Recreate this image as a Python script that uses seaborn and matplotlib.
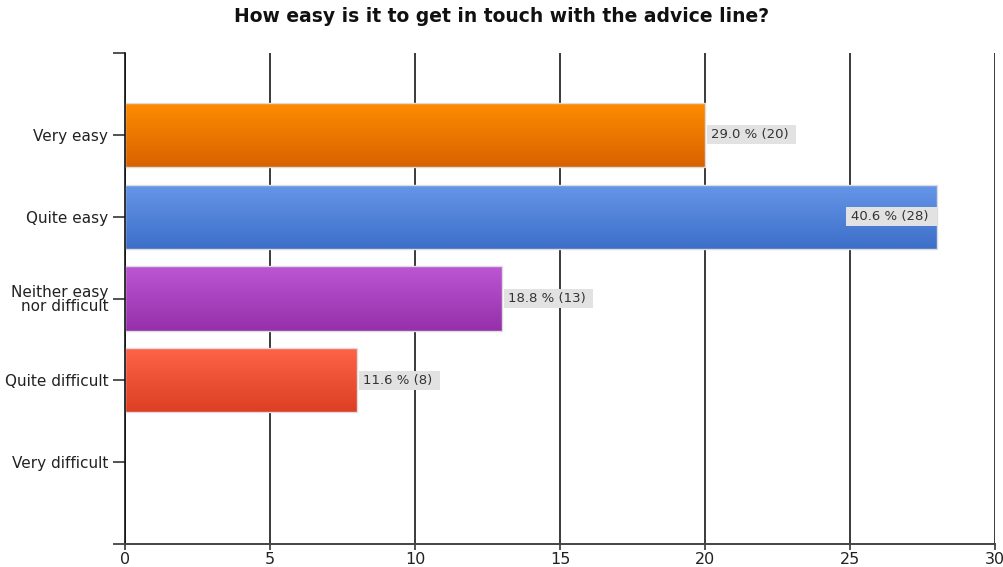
import numpy as np
import matplotlib
matplotlib.use("Agg")
import matplotlib.pyplot as plt
import matplotlib.colors as mcolors
from matplotlib.patches import Rectangle
import seaborn as sns

# Survey responses
categories = ["Very easy", "Quite easy", "Neither easy\nnor difficult",
              "Quite difficult", "Very difficult"]
counts = [20, 28, 13, 8, 0]
percents = [29.0, 40.6, 18.8, 11.6, 0.0]
x_ticks = [0, 5, 10, 15, 20, 25, 30]

# Top and bottom shades of each bar's vertical gradient
top_colors = ["#FF8C00", "#6696E8", "#BC56D4", "#FF6448", "#888888"]
bottom_colors = ["#D96200", "#3D6FC9", "#9530AA", "#DC3F22", "#666666"]

sns.set_theme(style="white")
plt.rcParams["font.family"] = ["DejaVu Sans"]

fig = plt.figure(figsize=(10.04, 5.67), dpi=100)
ax = fig.add_axes([125 / 1004, 23 / 567, 870 / 1004, 491 / 567])

sns.barplot(x=counts, y=categories, hue=categories, palette=top_colors,
            legend=False, orient="h", width=0.785, ax=ax,
            edgecolor="#dcdcdc", linewidth=1.0)

ax.set_xlim(x_ticks[0], x_ticks[-1])
ax.set_ylim(5, -1)

# Replace flat fills with vertical gradients clipped to each bar
for bar in list(ax.patches):
    idx = int(round(bar.get_y() + bar.get_height() / 2))
    if bar.get_width() <= 0:
        bar.set_visible(False)
        continue
    c0 = np.array(mcolors.to_rgb(top_colors[idx]))
    c1 = np.array(mcolors.to_rgb(bottom_colors[idx]))
    t = np.linspace(0, 1, 64)[:, None, None]
    grad = c0 * (1 - t) + c1 * t
    x0, y0 = bar.get_x(), bar.get_y()
    w, h = bar.get_width(), bar.get_height()
    im = ax.imshow(grad, extent=(x0, x0 + w, y0 + h, y0), origin="upper",
                   aspect="auto", interpolation="bilinear", zorder=1.5)
    im.set_clip_path(bar)
    bar.set_facecolor("none")
    bar.set_zorder(1.6)

ax.set_xlim(x_ticks[0], x_ticks[-1])
ax.set_ylim(5, -1)

# Grid and axes styling
ax.set_axisbelow(True)
ax.xaxis.grid(True, color="#3a3a3a", linewidth=1.4)
ax.yaxis.grid(False)
for side in ["top", "right"]:
    ax.spines[side].set_visible(False)
ax.spines["left"].set_color("#111111")
ax.spines["left"].set_linewidth(1.2)
ax.spines["bottom"].set_color("#444444")
ax.spines["bottom"].set_linewidth(1.4)

ax.set_xticks(x_ticks)
ax.set_xticklabels([str(v) for v in x_ticks], fontsize=11.5, color="#222222")
ax.set_yticks([-1, 0, 1, 2, 3, 4, 5])
ax.set_yticklabels([""] + categories + [""], fontsize=11, color="#222222",
                   linespacing=0.95)
for lab in ax.get_yticklabels():
    lab.set_horizontalalignment("right")
ax.tick_params(axis="y", length=8.5, width=1.3, color="#444444", pad=3.5, left=True)
ax.tick_params(axis="x", length=4.5, width=1.3, color="#444444", pad=1.0, bottom=True)
ax.set_xlabel("")
ax.set_ylabel("")

# Value labels: percent and count on a grey box
labels = []
for i, (n, pct) in enumerate(zip(counts, percents)):
    if n <= 0:
        continue
    inside = n > 0.85 * x_ticks[-1]
    txt = ax.annotate(f"{pct:.1f} % ({n})", xy=(n, i),
                      xytext=(-6.0 if inside else 4.0, 0),
                      textcoords="offset points", ha="right" if inside else "left",
                      va="center", fontsize=9.5, color="#333333", zorder=3)
    labels.append((txt, inside))

fig.canvas.draw()
renderer = fig.canvas.get_renderer()
inv = ax.transData.inverted()
for txt, inside in labels:
    ext = txt.get_window_extent(renderer)
    px_l, px_r = (5, 8) if inside else (3.5, 8)
    (xa, ya) = inv.transform((ext.x0 - px_l, ext.y0 - 3))
    (xb, yb) = inv.transform((ext.x1 + px_r, ext.y1 + 3))
    ax.add_patch(Rectangle((xa, min(ya, yb)), xb - xa, abs(yb - ya),
                           facecolor="#e2e2e2", edgecolor="none", zorder=2.5))

fig.text(0.5, 1 - 17 / 567, "How easy is it to get in touch with the advice line?",
         ha="center", va="center", fontsize=13.5, fontweight="bold", color="#111111")

fig.savefig("out.png", dpi=100)
